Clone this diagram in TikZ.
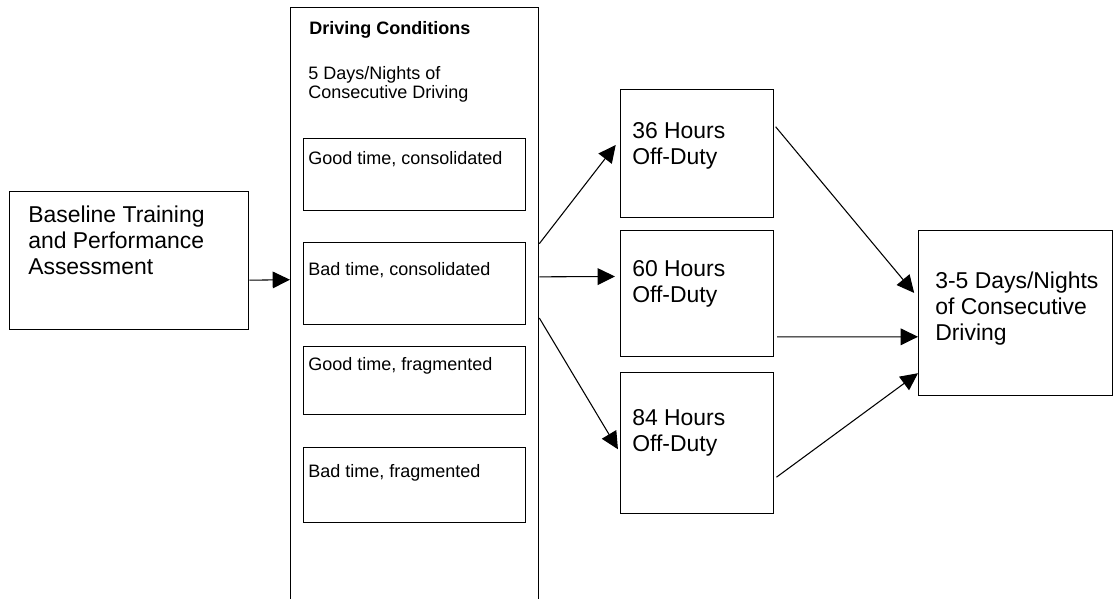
\documentclass[tikz,border=0pt]{standalone}
\usepackage{fontspec}
\setmainfont{Liberation Sans}
\usetikzlibrary{arrows.meta,calc}

\begin{document}
\begin{tikzpicture}[
    x=0.75pt, y=-0.75pt,
    box/.style={draw=black, line width=1pt, inner sep=0pt, anchor=north west},
    bigtxt/.style={font=\fontsize{17.2}{19.5}\selectfont, align=left, anchor=base west, inner sep=0pt},
    smalltxt/.style={font=\fontsize{13.5}{14.3}\selectfont, align=left, anchor=base west, inner sep=0pt},
    link/.style={line width=0.8pt, -{Triangle[length=13pt, width=12.5pt]}}
]

    % Marco de la imagen
    \useasboundingbox (0,0) rectangle (1113,599);
    \clip (0,0) rectangle (1113,599);

    % Caja de entrada
    \node[box, minimum width=179.25pt, minimum height=103.5pt] (base) at (9,191) {};
    \node[bigtxt] (base-t) at (28,274) {Baseline Training\\and Performance\\Assessment};

    % Condiciones de conduccion (la caja sigue por debajo del borde)
    \node[box, minimum width=186pt, minimum height=460pt] (cond) at (290,7) {};
    \node[smalltxt, font=\fontsize{13.5}{14.3}\selectfont\bfseries] (cond-t) at (309,35) {Driving Conditions};
    \node[smalltxt] (cond-s) at (308,99) {5 Days/Nights of\\Consecutive Driving};

    % Cuatro condiciones
    \foreach \name/\ytop/\hgt/\ybase/\txt in {
        gc/138/54/165/{Good time, consolidated},
        bc/242/61.5/275/{Bad time, consolidated},
        gf/346/51/370/{Good time, fragmented},
        bf/447/56.25/477/{Bad time, fragmented}} {
        \node[box, minimum width=166.5pt, minimum height=\hgt pt] (\name) at (303,\ytop) {};
        \node[smalltxt] (\name-t) at (308,\ybase) {\txt};
    }

    % Descanso fuera de servicio
    \node[box, minimum width=114.75pt, minimum height=96pt] (off36) at (620,89) {};
    \node[bigtxt] (off36-t) at (632,165) {36 Hours\\Off-Duty};
    \node[box, minimum width=114.75pt, minimum height=94.5pt] (off60) at (620,230) {};
    \node[bigtxt] (off60-t) at (632,302) {60 Hours\\Off-Duty};
    \node[box, minimum width=114.75pt, minimum height=105.75pt] (off84) at (620,372) {};
    \node[bigtxt] (off84-t) at (632,451) {84 Hours\\Off-Duty};

    % Caja final
    \node[box, minimum width=145.5pt, minimum height=123.75pt] (final) at (918,230) {};
    \node[bigtxt] (final-t) at (935,340) {3-5 Days/Nights\\of Consecutive\\Driving};

    % --- FLECHAS ---
    \draw[link] ($(base.north east)!0.64!(base.south east)$) -- ($(cond.north west)!0.4437!(cond.south west)$);

    \draw[link, shorten >=5.25pt] ($(cond.north east)!0.385!(cond.south east)$) -- ($(off36.north west)!0.39!(off36.south west)$);
    \draw[link, shorten >=3.75pt] ($(cond.north east)!0.439!(cond.south east)$) -- ($(off60.north west)!0.365!(off60.south west)$);
    \draw[link, shorten >=3pt]    ($(cond.north east)!0.506!(cond.south east)$) -- ($(off84.north west)!0.567!(off84.south west)$);

    \draw[link, shorten <=1.5pt, shorten >=4.5pt] ($(off36.north east)!0.28!(off36.south east)$) -- ($(final.north west)!0.406!(final.south west)$);
    \draw[link, shorten <=2pt] ($(off60.north east)!0.84!(off60.south east)$) -- ($(final.north west)!0.642!(final.south west)$);
    \draw[link, shorten <=2pt] ($(off84.north east)!0.75!(off84.south east)$) -- ($(final.north west)!0.861!(final.south west)$);

\end{tikzpicture}
\end{document}
